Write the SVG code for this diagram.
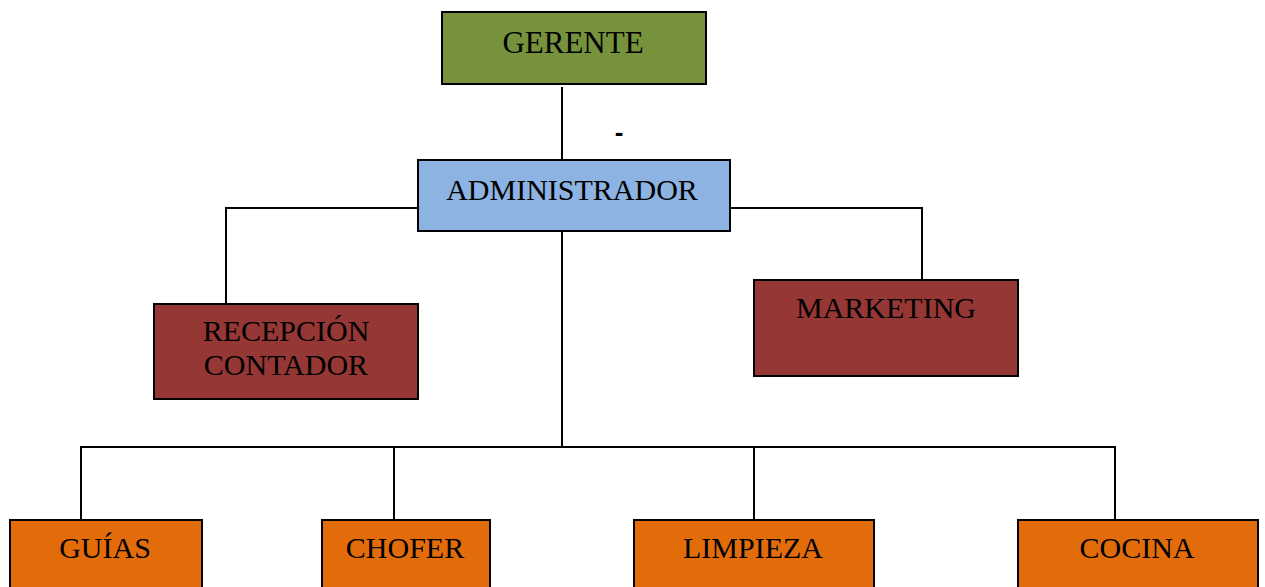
<svg xmlns="http://www.w3.org/2000/svg" width="1265" height="587" viewBox="0 0 1265 587">
<style>
.box{stroke:#000;stroke-width:2}
.lbl{font-family:"Liberation Serif","Times New Roman",serif;font-size:30px;fill:#000;text-anchor:middle}
.con{fill:none;stroke:#000;stroke-width:2}
</style>
<rect width="1265" height="587" fill="#fff"/>
<g id="connectors">
<line class="con" x1="562" y1="87" x2="562" y2="160"/>
<polyline class="con" points="418,208 226,208 226,304"/>
<polyline class="con" points="730,208 922,208 922,280"/>
<line class="con" x1="562" y1="231" x2="562" y2="447"/>
<polyline class="con" points="81,520 81,447 1115,447 1115,520"/>
<line class="con" x1="394" y1="447" x2="394" y2="520"/>
<line class="con" x1="754" y1="447" x2="754" y2="520"/>
</g>
<text x="619" y="141" style="font-family:'Liberation Sans',Arial,sans-serif;font-size:26px;font-weight:bold;text-anchor:middle">-</text>
<g id="gerente">
<rect class="box" x="442" y="12" width="264" height="72" fill="#76923c"/>
<text class="lbl" x="573" y="53" style="font-size:31px">GERENTE</text>
</g>
<g id="administrador">
<rect class="box" x="418" y="160" width="312" height="71" fill="#8db3e2"/>
<text class="lbl" x="572" y="200">ADMINISTRADOR</text>
</g>
<g id="recepcion">
<rect class="box" x="154" y="304" width="264" height="95" fill="#953735"/>
<text class="lbl" x="286" y="341">RECEPCIÓN</text>
<text class="lbl" x="286" y="375">CONTADOR</text>
</g>
<g id="marketing">
<rect class="box" x="754" y="280" width="264" height="96" fill="#953735"/>
<text class="lbl" x="886" y="318">MARKETING</text>
</g>
<g id="guias">
<rect class="box" x="10" y="520" width="192" height="90" fill="#e36c0a"/>
<text class="lbl" x="105" y="558">GUÍAS</text>
</g>
<g id="chofer">
<rect class="box" x="322" y="520" width="168" height="90" fill="#e36c0a"/>
<text class="lbl" x="405" y="558">CHOFER</text>
</g>
<g id="limpieza">
<rect class="box" x="634" y="520" width="240" height="90" fill="#e36c0a"/>
<text class="lbl" x="753" y="558">LIMPIEZA</text>
</g>
<g id="cocina">
<rect class="box" x="1018" y="520" width="240" height="90" fill="#e36c0a"/>
<text class="lbl" x="1137" y="558">COCINA</text>
</g>
</svg>
